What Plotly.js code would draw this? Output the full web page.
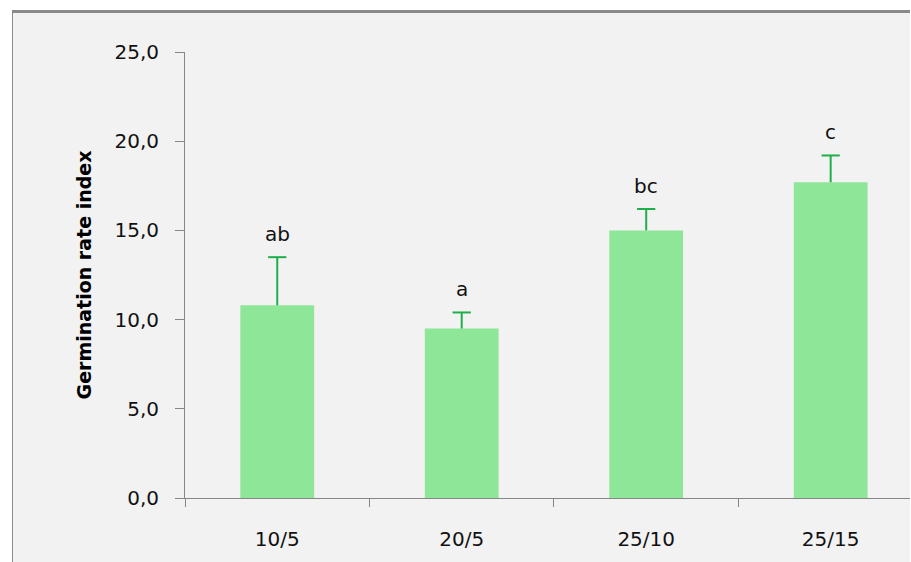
<!DOCTYPE html>
<html>
<head>
<meta charset="utf-8">
<script src="https://cdn.plot.ly/plotly-3.0.1.min.js"></script>
<style>
  html, body { margin: 0; padding: 0; background: #ffffff; width: 911px; height: 562px; overflow: hidden; }
  #frame {
    position: absolute; left: 12px; top: 10px;
    width: 898px; height: 552px;
    border-top: 3px solid #8a8a8a; border-left: 1px solid #8a8a8a;
    box-sizing: border-box; background: #f2f2f2;
  }
  #chart { width: 897px; height: 549px; }
</style>
</head>
<body>
<div id="frame"><div id="chart"></div></div>
<script>
// Temperature regimes (day/night, °C)
const regimes = ['10/5', '20/5', '25/10', '25/15'];
// Mean germination rate index per regime
const rateIndex = [10.8, 9.5, 15.0, 17.7];
// Upper error (standard error)
const rateError = [2.7, 0.9, 1.2, 1.5];
// Significance letters shown above each bar
const sigLetters = ['ab', 'a', 'bc', 'c'];
// Y axis tick values
const yTicks = [0, 5, 10, 15, 20, 25];

const font = 'DejaVu Sans, sans-serif';
const errColor = '#1fae4a';

const bars = {
  type: 'bar',
  x: regimes,
  y: rateIndex,
  width: 0.4,
  marker: { color: '#8ee698', line: { width: 0 } },
  hoverinfo: 'skip'
};

// Upper-only error whiskers: a stem from the bar top up to mean + error
const stemX = [], stemY = [];
regimes.forEach((r, i) => {
  stemX.push(r, r, null);
  stemY.push(rateIndex[i], rateIndex[i] + rateError[i], null);
});
const stems = {
  type: 'scatter',
  mode: 'lines',
  x: stemX,
  y: stemY,
  line: { color: errColor, width: 2 },
  hoverinfo: 'skip'
};

// Horizontal cap on top of each whisker
const caps = {
  type: 'scatter',
  mode: 'markers',
  x: regimes,
  y: rateIndex.map((v, i) => v + rateError[i]),
  marker: { symbol: 'line-ew', size: 13, line: { color: errColor, width: 2 } },
  hoverinfo: 'skip'
};

const annotations = regimes.map((r, i) => ({
  x: r,
  y: rateIndex[i] + rateError[i],
  xref: 'x', yref: 'y',
  text: sigLetters[i],
  showarrow: false,
  yanchor: 'bottom',
  yshift: 9,
  font: { family: font, size: 20, color: '#111111' }
}));

const layout = {
  width: 897,
  height: 549,
  margin: { l: 172, r: 0, t: 39, b: 64, pad: 0 },
  paper_bgcolor: '#f2f2f2',
  plot_bgcolor: '#f2f2f2',
  separators: ', ',
  showlegend: false,
  font: { family: font, size: 20, color: '#111111' },
  xaxis: {
    type: 'category',
    range: [-0.5, 3.43],
    showline: true,
    linecolor: '#868686',
    linewidth: 1,
    ticks: 'outside',
    tickson: 'boundaries',
    ticklen: 8,
    tickcolor: '#868686',
    tickwidth: 1,
    ticklabelstandoff: 23,
    showgrid: false,
    zeroline: false,
    fixedrange: true
  },
  yaxis: {
    range: [0, 25],
    tickvals: yTicks,
    tickformat: '.1f',
    showline: true,
    linecolor: '#868686',
    linewidth: 1,
    ticks: 'outside',
    ticklen: 9,
    tickcolor: '#868686',
    tickwidth: 1,
    ticklabelstandoff: 12,
    showgrid: false,
    zeroline: false,
    fixedrange: true,
    title: {
      text: 'Germination rate index',
      standoff: 17,
      font: { family: font, size: 19, color: '#000000', weight: 'bold' }
    }
  },
  annotations: annotations
};

Plotly.newPlot('chart', [bars, stems, caps], layout, { staticPlot: true, displayModeBar: false });
</script>
</body>
</html>
